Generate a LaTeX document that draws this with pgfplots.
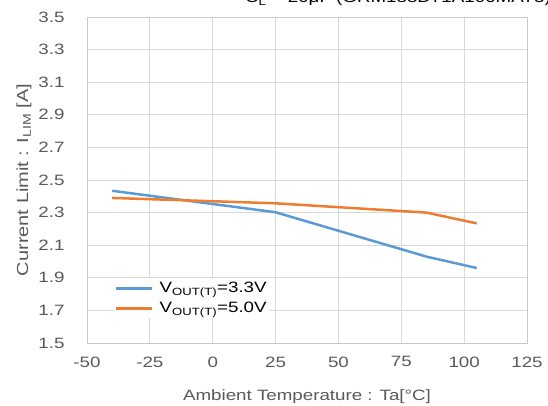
\documentclass[border=0pt]{standalone}
\usepackage{fontspec}
\setmainfont{Liberation Sans}[FakeStretch=1.25]
\usepackage{pgfplots}
\pgfplotsset{compat=1.18}
\definecolor{tc}{HTML}{595959}
\definecolor{gc}{HTML}{D9D9D9}
\definecolor{ac}{HTML}{C8C8C8}
\definecolor{b1}{HTML}{5B9BD5}
\definecolor{o1}{HTML}{ED7D31}
\begin{document}
\begin{tikzpicture}[x=1pt,y=1pt]
\useasboundingbox (0,0) rectangle (548,405);
\clip (0,0) rectangle (548,405);
\node[anchor=base west, inner sep=0pt, font=\fontsize{15}{18}\selectfont, text=black] at (245,402) {C\textsubscript{L} = 20μF (GRM188D71A106MA73)};
\begin{axis}[
  at={(87pt,62pt)}, anchor=south west,
  scale only axis, width=440pt, height=326pt,
  xmin=-50, xmax=125, ymin=1.5, ymax=3.5,
  xtick={-50,-25,0,25,50,75,100,125},
  ytick={1.5,1.7,1.9,2.1,2.3,2.5,2.7,2.9,3.1,3.3,3.5},
  grid=major, grid style={gc, line width=0.75pt},
  axis line style={ac, line width=0.75pt},
  tick style={draw=none},
  /pgf/number format/assume math mode=true,
  ticklabel style={font=\fontsize{15}{18}\selectfont, text=tc},
  yticklabel style={/pgf/number format/fixed, /pgf/number format/precision=1, /pgf/number format/fixed zerofill, xshift=-19pt},
  xticklabel style={/pgf/number format/fixed, yshift=-10pt},
  xlabel={Ambient Temperature : Ta[°C]},
  ylabel={Current Limit : I\textsubscript{LIM} [A]},
  xlabel style={font=\fontsize{15}{18}\selectfont, text=tc, at={(axis description cs:0.5,0)}, anchor=base, yshift=-57pt},
  ylabel style={font=\fontsize{16}{19}\selectfont, text=tc, at={(axis description cs:-0.143,0.5)}, anchor=center},
  legend style={at={(axis description cs:0.0636,0.199)}, anchor=north west, fill=white, draw=none,
    font=\fontsize{15}{18}\selectfont, text=black, inner xsep=0pt, inner ysep=2pt,
    row sep=4pt, /tikz/every odd column/.append style={column sep=4pt}},
  legend cell align=left,
  legend image code/.code={\draw[#1] (0pt,0pt) -- (36pt,0pt);},
]
\addplot[b1, line width=2.5pt] coordinates {(-40,2.434) (25,2.302) (85,2.03) (105,1.96)};
\addlegendentry{V\textsubscript{OUT(T)}=3.3V}
\addplot[o1, line width=2.5pt] coordinates {(-40,2.39) (25,2.357) (85,2.30) (105,2.234)};
\addlegendentry{V\textsubscript{OUT(T)}=5.0V}
\end{axis}
\end{tikzpicture}
\end{document}
